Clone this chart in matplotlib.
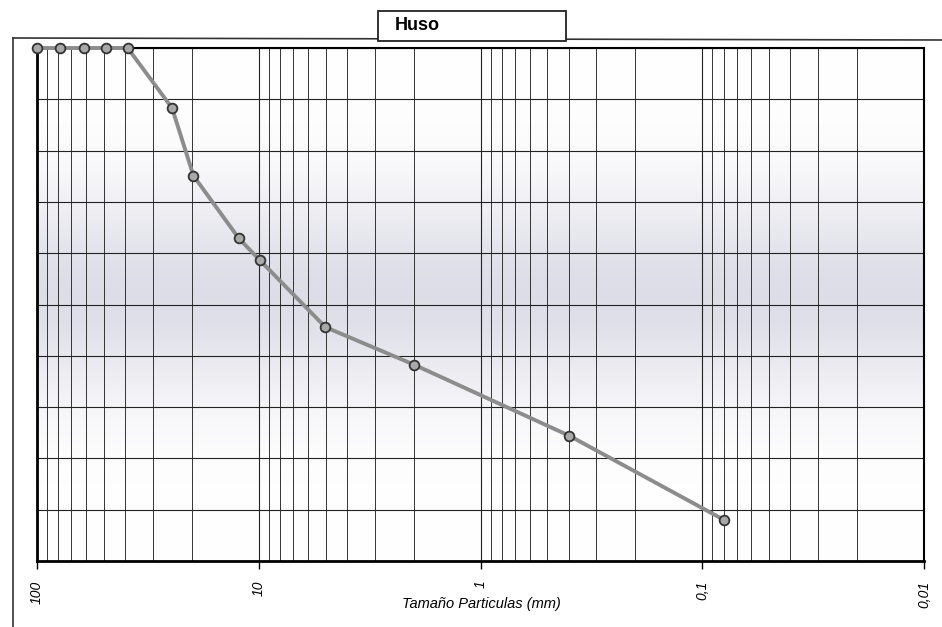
import numpy as np
import matplotlib
matplotlib.use("Agg")
import matplotlib.pyplot as plt
from matplotlib.lines import Line2D
from matplotlib.patches import Rectangle
from matplotlib.ticker import FixedLocator, LogLocator, NullFormatter

# Data
sizes_mm = [100, 78.7, 61.3, 48.7, 39.0, 24.6, 19.7, 12.3, 9.87, 5.01, 2.00, 0.397, 0.0797]
passing_pct = [100, 100, 100, 100, 100, 88.3, 75.1, 62.9, 58.6, 45.6, 38.3, 24.4, 8.0]
xtick_vals = [100, 10, 1, 0.1, 0.01]
xtick_labels = ["100", "10", "1", "0,1", "0,01"]
title_text = "Huso"
xlabel_text = "Tamaño Particulas (mm)"

W, H = 942, 627
fig = plt.figure(figsize=(W / 100, H / 100), dpi=100)
fig.patch.set_facecolor("white")

def fx(px):
    return px / W

def fy(py):
    return 1 - py / H

ax = fig.add_axes([fx(37), fy(561), fx(924) - fx(37), fy(48) - fy(561)])

# background gradient (scan shading)
yy = np.linspace(0, 1, 200)
shade = np.exp(-((yy - 0.52) / 0.2) ** 2) * 0.13
img = np.ones((200, 2, 3))
img[:, :, 0] -= shade[:, None]
img[:, :, 1] -= shade[:, None]
img[:, :, 2] -= shade[:, None] * 0.7
ax.imshow(img, extent=[0, 1, 0, 1], transform=ax.transAxes, aspect="auto",
          origin="lower", zorder=0, interpolation="bilinear")

ax.set_xscale("log")
ax.set_xlim(100, 0.01)
ax.set_ylim(0, 100)

# grid
ax.xaxis.set_major_locator(FixedLocator(xtick_vals))
ax.xaxis.set_minor_locator(LogLocator(base=10, subs=np.arange(2, 10), numticks=20))
ax.xaxis.set_minor_formatter(NullFormatter())
ax.set_xticks(xtick_vals)
ax.set_xticklabels(xtick_labels, rotation=90, fontsize=10, fontstyle="italic",
                   family="Liberation Sans")
ax.yaxis.set_major_locator(FixedLocator(np.arange(0, 101, 10)))
ax.set_yticklabels([])
ax.tick_params(axis="y", length=0)
ax.tick_params(axis="x", which="major", length=6, width=1, color="black",
               direction="out", pad=8)
ax.tick_params(axis="x", which="minor", length=0)
ax.grid(True, which="major", axis="both", color="#222222", lw=0.8, zorder=1)
ax.grid(True, which="minor", axis="x", color="#333333", lw=0.7, zorder=1)

for sp in ax.spines.values():
    sp.set_color("black")
    sp.set_linewidth(1.5)
ax.spines["left"].set_linewidth(2)
ax.spines["bottom"].set_linewidth(2)

ax.plot(sizes_mm, passing_pct, color="#8c8c8c", lw=2.8, marker="o",
        markersize=7, markerfacecolor="#a8a8a8", markeredgecolor="#333333",
        markeredgewidth=1.3, zorder=5, clip_on=False)

ax.set_xlabel(xlabel_text, fontsize=10.5, fontstyle="italic",
              family="Liberation Sans")
ax.xaxis.set_label_coords((fx(481) - fx(37)) / (fx(924) - fx(37)),
                          (fy(604) - fy(561)) / (fy(48) - fy(561)))
ax.xaxis.label.set_va("center")

# outer frame lines
fig.add_artist(Line2D([fx(13), fx(13)], [fy(38), 0], color="#333333", lw=1.2,
                      transform=fig.transFigure))
fig.add_artist(Line2D([fx(13), 1], [fy(38), fy(40)], color="#333333", lw=1.2,
                      transform=fig.transFigure))

# title box
fig.add_artist(Rectangle((fx(378), fy(41)), fx(566) - fx(378), fy(11) - fy(41),
                         transform=fig.transFigure, facecolor="white",
                         edgecolor="#222222", lw=1.3, zorder=10))
fig.text(fx(395), fy(26), title_text, fontsize=13, fontweight="bold",
         family="Liberation Sans", ha="left", va="center", zorder=11)

fig.savefig("out.png", dpi=100)
